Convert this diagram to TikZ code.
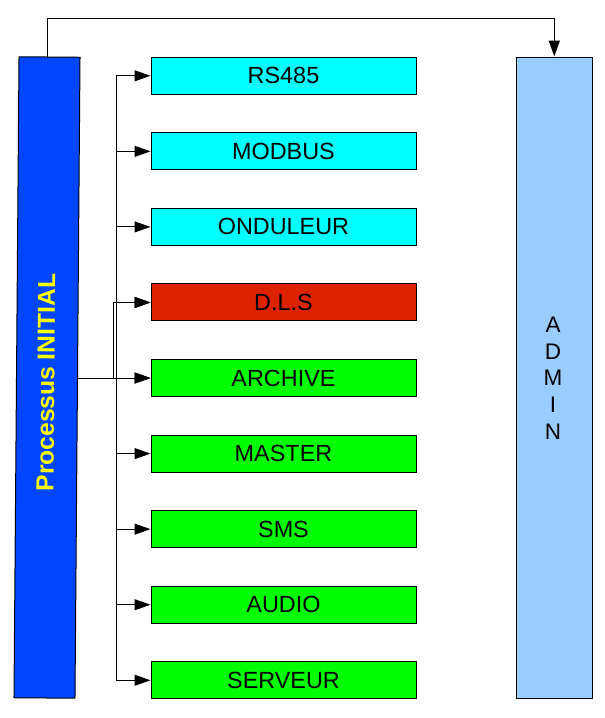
\documentclass[tikz,border=0pt]{standalone}
\usepackage{fontspec}
\setmainfont{Liberation Sans}
\usetikzlibrary{arrows.meta, positioning}
\definecolor{cBar}{RGB}{0,70,255}
\definecolor{cAdmin}{RGB}{153,204,255}
\definecolor{cCyan}{RGB}{0,255,255}
\definecolor{cRed}{RGB}{221,34,0}
\definecolor{cGreen}{RGB}{0,255,0}
\definecolor{cYellow}{RGB}{255,255,0}
\tikzset{
	modbox/.style ={rectangle, draw=black, line width=1pt, minimum width=265pt, minimum height=37pt, inner sep=0pt, font=\fontsize{23.4}{26}\selectfont},
	bigbar/.style ={rectangle, draw=black, line width=1pt, minimum height=641pt, inner sep=0pt},
	link/.style   ={-{Triangle[length=16pt, width=11pt]}, line width=1pt},
}

\begin{document}
\begin{tikzpicture}[x=1pt, y=-1pt]
	\useasboundingbox (0,0) rectangle (605,718);
	% left and right columns
	\node[bigbar, fill=cBar, minimum width=61pt, rotate=-0.45] (procinit) at (47,377.5) {};
	\node[rotate=89.55, text=cYellow, font=\fontsize{24.6}{28}\selectfont\bfseries] (proclabel) at (46,382.5) {Processus INITIAL};
	\node[bigbar, fill=cAdmin, minimum width=76pt] (admin) at (554.3,377.5) {};
	\node[align=center, font=\fontsize{22.5}{26.7}\selectfont] (adminlabel) at (553,378) {A\\D\\M\\I\\N};
	% modules
	\coordinate (trunk) at (116.3,0);
	\coordinate (branch) at (113.7,0);
	\foreach \name/\txt/\col [count=\i from 0] in {rs/RS485/cCyan, modbus/MODBUS/cCyan, ond/ONDULEUR/cCyan, dls/D.L.S/cRed, archive/ARCHIVE/cGreen, master/MASTER/cGreen, sms/SMS/cGreen, audio/AUDIO/cGreen, serveur/SERVEUR/cGreen} {
		\node[modbox, fill=\col] (\name) at (283.5,75.8+75.56*\i) {\txt};
		\draw[link] (trunk |- \name) -- (\name.west);
	}
	\draw[line width=1pt] (trunk |- rs) -- (trunk |- serveur);
	\draw[link] (procinit.east |- archive) -- (archive.west);
	\draw[link] (branch |- archive) -- (branch |- dls) -- (dls.west);
	\draw[link] ([xshift=-2.2pt]procinit.north) -- ++(0,-38) -| (admin.north);
\end{tikzpicture}
\end{document}
